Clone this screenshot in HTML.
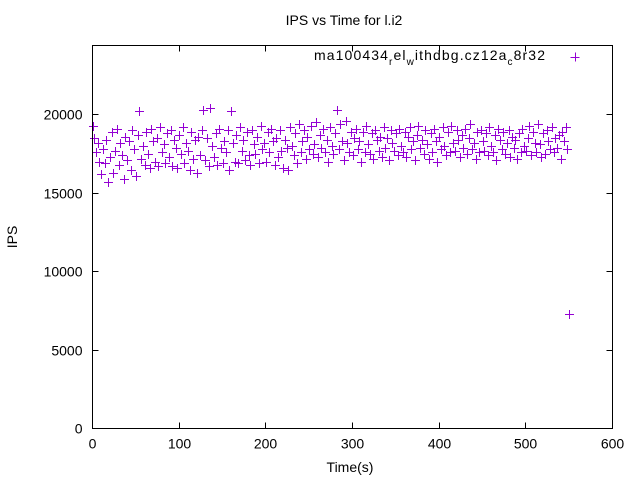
<!DOCTYPE html>
<html><head><meta charset="utf-8"><style>
body{margin:0;background:#fff}
svg{display:block;font-family:"Liberation Sans",sans-serif;font-size:14px}
</style></head><body>
<svg id="chart" width="640" height="480" xmlns="http://www.w3.org/2000/svg">
<rect width="640" height="480" fill="#fff"/>
<text x="344" y="25" text-anchor="middle">IPS vs Time for l.i2</text>
<text transform="translate(17,237) rotate(-90)" text-anchor="middle">IPS</text>
<text x="350" y="472" text-anchor="middle">Time(s)</text>
<g id="axes"></g>
<g id="points"></g>
<text x="314" y="60" textLength="231" lengthAdjust="spacing">ma100434<tspan dy="5" font-size="10">r</tspan><tspan dy="-5">el</tspan><tspan dy="5" font-size="10">w</tspan><tspan dy="-5">ithdbg.cz12a</tspan><tspan dy="5" font-size="10">c</tspan><tspan dy="-5">8r32</tspan></text>
<path d="M570.5 57.5H579.5M575.5 52.5V61.5" stroke="#9400d3" stroke-width="1"/>
<rect x="92.5" y="45.5" width="520" height="383" fill="none" stroke="#000"/>
</svg>
<script>
const xTicks=[0,100,200,300,400,500,600];
const yTicks=[0,5000,10000,15000,20000];
const ipsValues=[19300,18500,17600,18200,17000,16200,17800,16900,18400,15700,
17300,18900,16300,17700,19100,16800,18200,17400,15900,18600,
17100,18300,16500,19000,17800,16100,18700,20200,17200,18000,
16800,18900,17500,16600,19100,18300,17000,18500,16700,19200,
17600,18100,16900,18800,17300,19000,16700,18400,17900,16600,
18700,17500,19200,16900,18200,17700,16500,18900,17200,18400,
16300,18600,17400,19000,20300,17100,18500,16700,20400,18000,
17300,18800,16800,19100,17900,16900,18300,17600,19000,16500,
20200,18200,17000,18700,16900,19200,17700,18400,17100,18900,
17400,16800,19000,18100,17500,18600,16900,19300,17800,18200,
17000,18900,17600,19100,18300,16800,18500,17300,19000,17700,
16600,18400,17900,16500,19200,18000,17400,18800,16900,19400,
17600,18300,19000,17200,18600,17800,19300,17500,18100,19500,
17300,18700,17900,19100,17600,18400,17000,19200,18000,17500,
18800,20300,17800,19400,18300,17100,19600,18200,17600,18900,
17400,18500,19100,17800,18300,17000,18900,17600,19300,18100,
17500,18800,17200,19000,18400,17700,18600,17300,19200,17900,
18500,17100,19000,18200,17700,18800,17400,19100,18000,17600,
18900,17300,18600,19200,17800,18300,17100,18700,19300,17900,
18400,17500,19000,18100,17200,18800,17600,19100,18300,17000,
18600,17800,19200,18000,17400,18900,17600,19300,18200,17700,
19000,18400,17300,18700,17900,19100,17500,18500,19400,17800,
18200,17200,18900,17600,19000,18300,17700,18800,17400,19200,
18000,17600,18700,17100,19100,18400,17800,18900,17500,18200,
19000,17300,18600,17900,18400,17200,18800,17600,19100,18000,
17700,18500,19300,17400,18900,18200,17600,19400,18100,17300,
18800,17500,19000,18300,17800,19200,17600,18500,17900,18700,
17200,18900,18300,19200,17800,7300];
const timeStep=2;
const NS="http://www.w3.org/2000/svg";
const X0=92.5,X1=612.5,Y0=428.5,Y1=45.5;
function xs(v){return X0+(v-0)/(600-0)*(X1-X0);}
function ys(v){return Y0-(v-0)/(24400-0)*(Y0-Y1);}
const axes=document.getElementById('axes');
xTicks.forEach(t=>{
  const p=document.createElementNS(NS,'path');
  
  
  const x=Math.round(xs(t)-0.5)+0.5;
  p.setAttribute('d',`M${x} ${Y0}v-6M${x} ${Y1}v6`);
  p.setAttribute('stroke','#000');axes.appendChild(p);
  const l=document.createElementNS(NS,'text');
  
  
  l.setAttribute('x',x);l.setAttribute('y',Y0+20);l.setAttribute('text-anchor','middle');
  l.textContent=t;axes.appendChild(l);
});
yTicks.forEach(t=>{
  const p=document.createElementNS(NS,'path');
  
  
  const y=Math.round(ys(t)-0.5)+0.5;
  p.setAttribute('d',`M${X0} ${y}h6M${X1} ${y}h-6`);
  p.setAttribute('stroke','#000');axes.appendChild(p);
  const l=document.createElementNS(NS,'text');
  
  
  l.setAttribute('x',X0-10);l.setAttribute('y',y+5);l.setAttribute('text-anchor','end');
  l.textContent=t;axes.appendChild(l);
});
const pts=document.getElementById('points');
let d='';
ipsValues.forEach((v,i)=>{
  const x=Math.round(xs(i*timeStep))+0.5,y=Math.round(ys(v))+0.5;
  d+=`M${x-4.5} ${y}h9M${x} ${y-4.5}v9`;
});
const pp=document.createElementNS(NS,'path');


pp.setAttribute('d',d);pp.setAttribute('stroke','#9400d3');pp.setAttribute('fill','none');
pts.appendChild(pp);
</script>
</body></html>
